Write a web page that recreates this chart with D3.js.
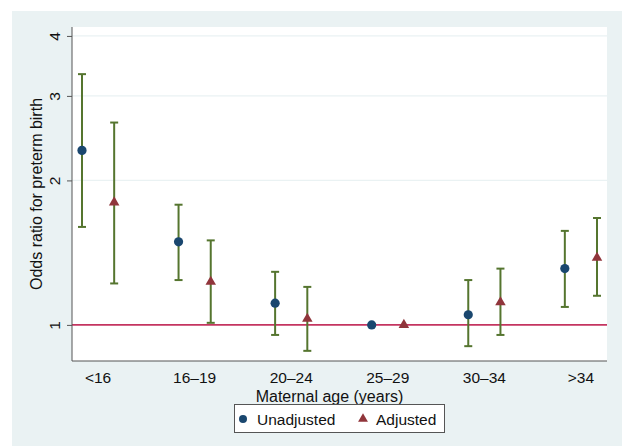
<!DOCTYPE html>
<meta charset="utf-8">
<head>
    <script src="https://d3js.org/d3.v7.min.js"></script>
    <style>
        body { margin: 0; background: white; }
        text { font-family: "Liberation Sans", Arial, sans-serif; fill: #111; }
    </style>
</head>
<body>
<div id="my_dataviz"></div>
<script>
    // age groups and odds ratios
    const groups = ["<16", "16\u201319", "20\u201324", "25\u201329", "30\u201334", ">34"];
    const unadj = [2.31, 1.49, 1.11, 1.0, 1.05, 1.31];
    const unadjLo = [1.60, 1.24, 0.953, 1.0, 0.903, 1.09];
    const unadjHi = [3.33, 1.78, 1.29, 1.0, 1.24, 1.57];
    const adj = [1.80, 1.23, 1.03, 1.0, 1.115, 1.38];
    const adjLo = [1.22, 1.01, 0.883, 1.0, 0.953, 1.15];
    const adjHi = [2.64, 1.50, 1.20, 1.0, 1.31, 1.67];
    const yTicks = [1, 2, 3, 4];

    const width = 622, height = 446;
    const plot = { left: 72, right: 607, top: 27, bottom: 361 };

    const svg = d3.select("#my_dataviz").append("svg")
        .attr("width", width)
        .attr("height", height);

    // stata style outer background
    svg.append("rect")
        .attr("x", 12).attr("y", 11)
        .attr("width", width - 12).attr("height", height - 11)
        .attr("fill", "#eaf2f3");

    svg.append("rect")
        .attr("x", plot.left).attr("y", plot.top)
        .attr("width", plot.right - plot.left).attr("height", plot.bottom - plot.top)
        .attr("fill", "white");

    const x = d3.scaleLinear()
        .domain([-0.27, 5.27])
        .range([plot.left, plot.right]);

    const y = d3.scaleLog()
        .domain([0.841, 4.175])
        .range([plot.bottom, plot.top]);

    const off = 1 / 6;

    // gridlines
    svg.append("g")
        .selectAll("line")
        .data(yTicks.filter(d => d > 1))
        .enter()
        .append("line")
        .attr("x1", plot.left).attr("x2", plot.right)
        .attr("y1", d => y(d)).attr("y2", d => y(d))
        .attr("stroke", "#eaf2f3")
        .attr("stroke-width", 1.2);

    // reference line at 1
    svg.append("line")
        .attr("x1", plot.left).attr("x2", plot.right)
        .attr("y1", y(1)).attr("y2", y(1))
        .attr("stroke", "#c43560")
        .attr("stroke-width", 1.6);

    // y axis
    const leftAxis = d3.axisLeft(y)
        .tickValues(yTicks)
        .tickFormat(d3.format("d"))
        .tickSize(5)
        .tickPadding(10);

    const yAx = svg.append("g")
        .attr("transform", `translate(${plot.left}, 0)`)
        .call(leftAxis);
    yAx.select(".domain").attr("d", `M0,${plot.top}V${plot.bottom}`).attr("stroke", "#555");
    yAx.selectAll(".tick line").attr("stroke", "#555");
    yAx.selectAll(".tick text")
        .attr("x", null).attr("dy", null)
        .attr("text-anchor", "middle")
        .attr("transform", "translate(-12, 0) rotate(-90)")
        .style("font-size", "15.5px")
        .style("font-family", "Liberation Sans, Arial, sans-serif")
        .attr("fill", "#111");

    // x axis (no tick marks)
    svg.append("line")
        .attr("x1", plot.left).attr("x2", plot.right)
        .attr("y1", plot.bottom).attr("y2", plot.bottom)
        .attr("stroke", "#555");

    svg.append("g")
        .selectAll("text")
        .data(groups)
        .enter()
        .append("text")
        .attr("x", (d, i) => x(i))
        .attr("y", 383)
        .attr("text-anchor", "middle")
        .style("font-size", "15.5px")
        .text(d => d);

    svg.append("text")
        .attr("x", (plot.left + plot.right) / 2 - 10)
        .attr("y", 402)
        .attr("text-anchor", "middle")
        .style("font-size", "16px")
        .text("Maternal age (years)");

    svg.append("text")
        .attr("transform", `translate(42, ${(plot.top + plot.bottom) / 2}) rotate(-90)`)
        .attr("text-anchor", "middle")
        .style("font-size", "16px")
        .text("Odds ratio for preterm birth");

    // error bars
    const bars = [];
    groups.forEach((g, i) => {
        if (unadjLo[i] !== unadjHi[i]) bars.push({ pos: i - off, lo: unadjLo[i], hi: unadjHi[i] });
        if (adjLo[i] !== adjHi[i]) bars.push({ pos: i + off, lo: adjLo[i], hi: adjHi[i] });
    });

    const eb = svg.append("g")
        .attr("stroke", "#55752f")
        .attr("stroke-width", 2);

    eb.selectAll(".v")
        .data(bars)
        .enter()
        .append("line")
        .attr("x1", d => x(d.pos)).attr("x2", d => x(d.pos))
        .attr("y1", d => y(d.lo)).attr("y2", d => y(d.hi));

    eb.selectAll(".capHi")
        .data(bars)
        .enter()
        .append("line")
        .attr("x1", d => x(d.pos) - 4).attr("x2", d => x(d.pos) + 4)
        .attr("y1", d => y(d.hi)).attr("y2", d => y(d.hi));

    eb.selectAll(".capLo")
        .data(bars)
        .enter()
        .append("line")
        .attr("x1", d => x(d.pos) - 4).attr("x2", d => x(d.pos) + 4)
        .attr("y1", d => y(d.lo)).attr("y2", d => y(d.lo));

    // markers
    svg.append("g")
        .selectAll("circle")
        .data(unadj)
        .enter()
        .append("circle")
        .attr("cx", (d, i) => x(i - off))
        .attr("cy", d => y(d))
        .attr("r", 4.6)
        .attr("fill", "#1a476f");

    const tri = d3.symbol().type(d3.symbolTriangle).size(48);

    svg.append("g")
        .selectAll("path")
        .data(adj)
        .enter()
        .append("path")
        .attr("d", tri)
        .attr("transform", (d, i) => `translate(${x(i + off)}, ${y(d)})`)
        .attr("fill", "#90353b");

    // legend
    const legend = svg.append("g")
        .attr("class", "legend");

    legend.append("rect")
        .attr("x", 234.5).attr("y", 404.5)
        .attr("width", 210).attr("height", 28)
        .attr("fill", "white")
        .attr("stroke", "#555");

    legend.append("circle")
        .attr("cx", 243).attr("cy", 419)
        .attr("r", 4)
        .attr("fill", "#1a476f");

    legend.append("text")
        .attr("x", 257).attr("y", 424.5)
        .style("font-size", "15.5px")
        .text("Unadjusted");

    legend.append("path")
        .attr("d", d3.symbol().type(d3.symbolTriangle).size(42))
        .attr("transform", "translate(363, 419)")
        .attr("fill", "#90353b");

    legend.append("text")
        .attr("x", 376).attr("y", 424.5)
        .style("font-size", "15.5px")
        .text("Adjusted");
</script>
</body>
